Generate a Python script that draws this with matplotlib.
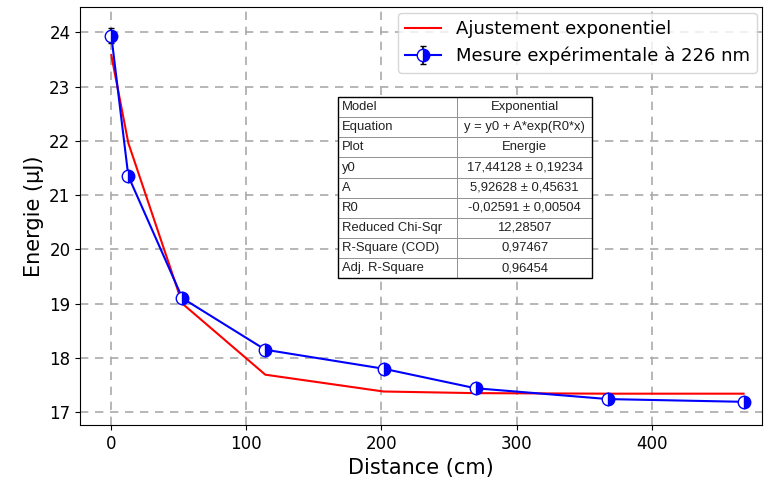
import numpy as np
import matplotlib.pyplot as plt

# Data
dist = np.array([0, 12.6, 52.6, 114, 201.5, 269.6, 368, 468])
energie = np.array([23.94, 21.35, 19.10, 18.15, 17.80, 17.44, 17.24, 17.19])
err = np.array([0.13, 0.05, 0.05, 0.06, 0.07, 0.06, 0.09, 0.05])
fit = np.array([23.58, 21.96, 19.00, 17.69, 17.38, 17.35, 17.34, 17.34])

rows = [['Model', 'Exponential'],
        ['Equation', 'y = y0 + A*exp(R0*x)'],
        ['Plot', 'Energie'],
        ['y0', '17,44128 ± 0,19234'],
        ['A', '5,92628 ± 0,45631'],
        ['R0', '-0,02591 ± 0,00504'],
        ['Reduced Chi-Sqr', '12,28507'],
        ['R-Square (COD)', '0,97467'],
        ['Adj. R-Square', '0,96454']]

fig = plt.figure(figsize=(7.64, 4.87), dpi=100)
ax = fig.add_axes([0.105, 0.127, 0.893, 0.858])

ax.plot(dist, fit, '-', color='red', lw=1.5, label='Ajustement exponentiel')
ax.errorbar(dist, energie, yerr=err, fmt='-o', color='blue', lw=1.5,
            ecolor='black', elinewidth=1.2, capsize=2,
            markersize=9, fillstyle='right', markerfacecolor='blue',
            markerfacecoloralt='white', markeredgecolor='blue',
            label='Mesure expérimentale à 226 nm')

ax.set_xlim(-23, 482)
ax.set_ylim(16.76, 24.46)
ax.set_xticks([0, 100, 200, 300, 400])
ax.set_yticks(range(17, 25))
ax.tick_params(labelsize=12)
ax.set_xlabel('Distance (cm)', fontsize=15)
ax.set_ylabel('Energie (µJ)', fontsize=15)
ax.grid(color='#aaaaaa', linestyle=(0, (5, 4)), linewidth=1.2)
ax.legend(loc='upper right', fontsize=13, borderaxespad=0.3)

tb = ax.table(cellText=rows, bbox=[0.378, 0.352, 0.372, 0.433],
              colWidths=[0.47, 0.53], zorder=5)
tb.auto_set_font_size(False)
for (r, c), cell in tb.get_celld().items():
    cell.set_edgecolor('#888888')
    cell.set_linewidth(0.6)
    cell.set_text_props(fontfamily='Liberation Sans', fontsize=9.4, color='#222222')
    cell.get_text().set_va('center')
    if c == 0:
        cell.get_text().set_ha('left')
        cell.PAD = 0.03
    else:
        cell.get_text().set_ha('center')
# outer frame
ax.add_patch(plt.Rectangle((0.378, 0.352), 0.372, 0.433, transform=ax.transAxes,
                           fill=False, edgecolor='black', lw=1.0, zorder=6))

plt.savefig('out.png', dpi=100)
